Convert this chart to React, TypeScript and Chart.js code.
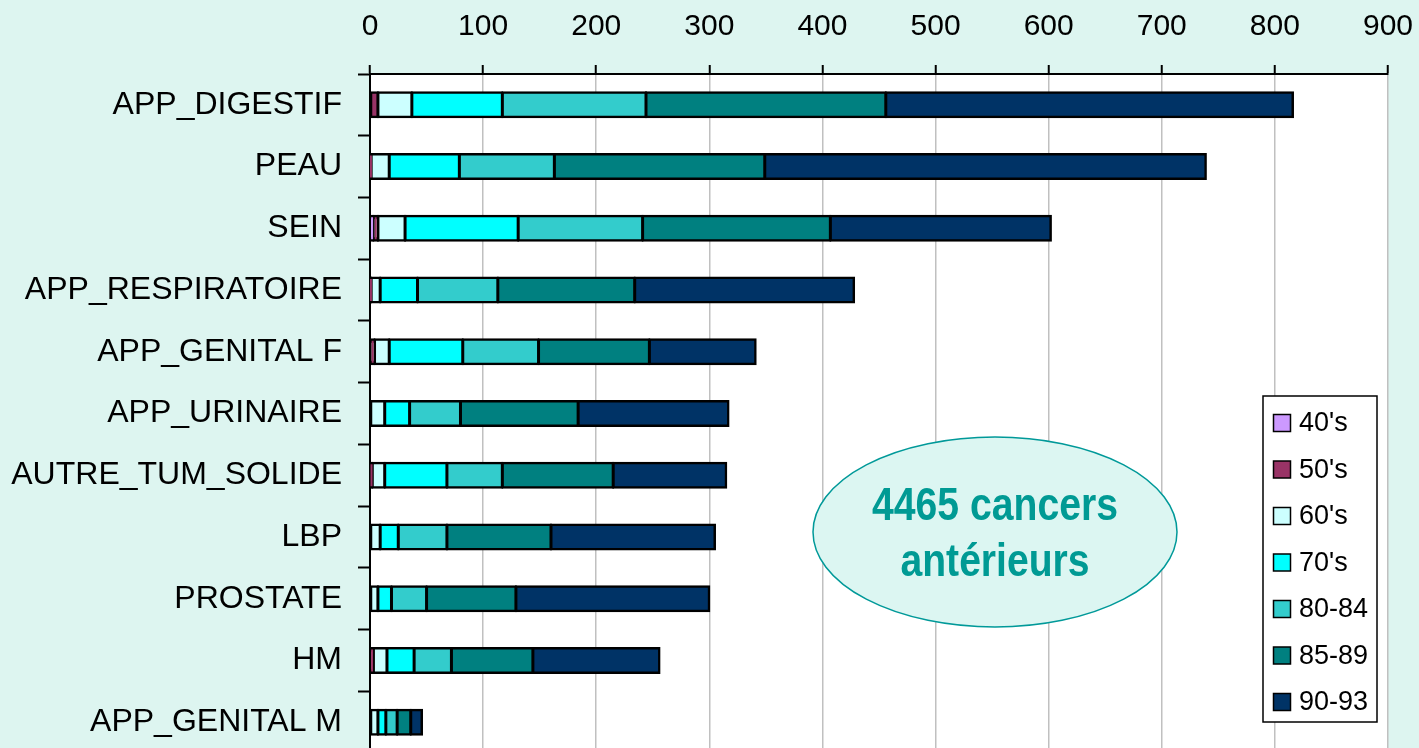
import React, { useEffect, useRef } from "react";
import { Chart, registerables } from "chart.js";

Chart.register(...registerables);

// Cancer sites, top to bottom
const categories = [
  "APP_DIGESTIF",
  "PEAU",
  "SEIN",
  "APP_RESPIRATOIRE",
  "APP_GENITAL F",
  "APP_URINAIRE",
  "AUTRE_TUM_SOLIDE",
  "LBP",
  "PROSTATE",
  "HM",
  "APP_GENITAL M",
];

// Counts per period of diagnosis
const s40 = [0, 0, 3, 0, 0, 0, 0, 0, 0, 0, 0];
const s50 = [7, 1, 4, 1, 4, 0, 2, 0, 0, 3, 0];
const s60 = [30, 16, 24, 8, 13, 13, 11, 9, 7, 12, 7];
const s70 = [80, 62, 100, 33, 65, 22, 55, 16, 12, 24, 7];
const s8084 = [127, 84, 110, 71, 67, 45, 49, 43, 31, 33, 10];
const s8589 = [212, 186, 166, 121, 98, 104, 98, 92, 79, 72, 12];
const s9093 = [360, 390, 195, 194, 94, 133, 100, 145, 171, 112, 10];

const seriesLabels = ["40's", "50's", "60's", "70's", "80-84", "85-89", "90-93"];
const seriesColors = ["#CC99FF", "#993366", "#CCFFFF", "#00FFFF", "#33CCCC", "#008080", "#003366"];
const seriesData = [s40, s50, s60, s70, s8084, s8589, s9093];

const axisTicks = { min: 0, max: 900, step: 100 };

const FONT = "'Liberation Sans', Arial, Helvetica, sans-serif";
const PAGE_BG = "#DDF5F0";
const TEAL = "#009A94";

const total = seriesData.reduce((acc, arr) => acc + arr.reduce((a, b) => a + b, 0), 0);

const plotBackground = {
  id: "plotBackground",
  beforeDraw(chart: any) {
    const { ctx, chartArea } = chart;
    ctx.save();
    ctx.fillStyle = "#FFFFFF";
    ctx.fillRect(chartArea.left, chartArea.top, chartArea.right - chartArea.left, chartArea.bottom - chartArea.top);
    ctx.restore();
  },
};

const overlay = {
  id: "overlay",
  afterDraw(chart: any) {
    const { ctx, chartArea } = chart;
    ctx.save();

    // Callout ellipse with the total
    const cx = chartArea.left + 625;
    const cy = chartArea.top + 458;
    ctx.beginPath();
    ctx.ellipse(cx, cy, 182, 95, 0, 0, Math.PI * 2);
    ctx.fillStyle = "#DCF6F2";
    ctx.fill();
    ctx.lineWidth = 1.5;
    ctx.strokeStyle = "#009999";
    ctx.stroke();
    ctx.fillStyle = TEAL;
    ctx.font = `bold 47px ${FONT}`;
    ctx.textAlign = "center";
    ctx.textBaseline = "alphabetic";
    ctx.fillText(`${total} cancers`, cx, cy - 12, 246);
    ctx.fillText("antérieurs", cx, cy + 44, 189);

    // Legend box
    const bx = chartArea.right - 125;
    const by = chartArea.top + 322;
    const bw = 114;
    const bh = 326;
    ctx.fillStyle = "#FFFFFF";
    ctx.fillRect(bx, by, bw, bh);
    ctx.lineWidth = 1.5;
    ctx.strokeStyle = "#000000";
    ctx.strokeRect(bx, by, bw, bh);

    ctx.font = `27px ${FONT}`;
    ctx.textAlign = "left";
    ctx.textBaseline = "middle";
    chart.data.datasets.forEach((ds: any, i: number) => {
      const y = by + 27 + i * 46.5;
      ctx.fillStyle = ds.backgroundColor;
      ctx.fillRect(bx + 10.5, y - 8.5, 17, 17);
      ctx.lineWidth = 1.5;
      ctx.strokeStyle = "#000000";
      ctx.strokeRect(bx + 10.5, y - 8.5, 17, 17);
      ctx.fillStyle = "#000000";
      ctx.fillText(ds.label, bx + 36, y + 1);
    });

    ctx.restore();
  },
};

export default function App() {
  const canvasRef = useRef<HTMLCanvasElement | null>(null);

  useEffect(() => {
    if (!canvasRef.current) return;
    const chart = new Chart(canvasRef.current, {
      type: "bar",
      data: {
        labels: categories,
        datasets: seriesLabels.map((label, i) => ({
          label,
          data: seriesData[i],
          backgroundColor: seriesColors[i],
          borderColor: "#000000",
          borderWidth: 2.5,
          borderSkipped: false,
          inflateAmount: 1,
          barThickness: 25,
        })),
      },
      options: {
        indexAxis: "y",
        animation: false,
        responsive: false,
        devicePixelRatio: 1,
        layout: { padding: { left: 0, right: 31, top: 0, bottom: 0 } },
        plugins: {
          legend: { display: false },
          tooltip: { enabled: false },
        },
        scales: {
          x: {
            position: "top",
            stacked: true,
            min: axisTicks.min,
            max: axisTicks.max,
            afterFit(scale: any) {
              scale.height = 74;
              scale.paddingLeft = 0;
              scale.paddingRight = 0;
            },
            ticks: {
              stepSize: axisTicks.step,
              color: "#000000",
              font: { family: FONT, size: 30 },
              padding: 20,
            },
            grid: {
              color: "#C0C0C0",
              lineWidth: 1.5,
              tickColor: "#000000",
              tickWidth: 2,
              tickLength: 9,
            },
            border: { color: "#000000", width: 2 },
          },
          y: {
            stacked: true,
            afterFit(scale: any) {
              scale.width = 370;
              scale.paddingTop = 0;
              scale.paddingBottom = 0;
            },
            ticks: {
              color: "#000000",
              font: { family: FONT, size: 32 },
              padding: 16,
            },
            grid: {
              offset: true,
              drawOnChartArea: false,
              tickColor: "#000000",
              tickWidth: 2,
              tickLength: 12,
            },
            border: { color: "#000000", width: 2 },
          },
        },
      },
      plugins: [plotBackground, overlay],
    });
    return () => chart.destroy();
  }, []);

  return (
    <div
      style={{
        position: "fixed",
        left: 0,
        top: 0,
        width: 1419,
        height: 753,
        background: PAGE_BG,
      }}
    >
      <canvas ref={canvasRef} width={1419} height={753} style={{ display: "block" }} />
    </div>
  );
}
